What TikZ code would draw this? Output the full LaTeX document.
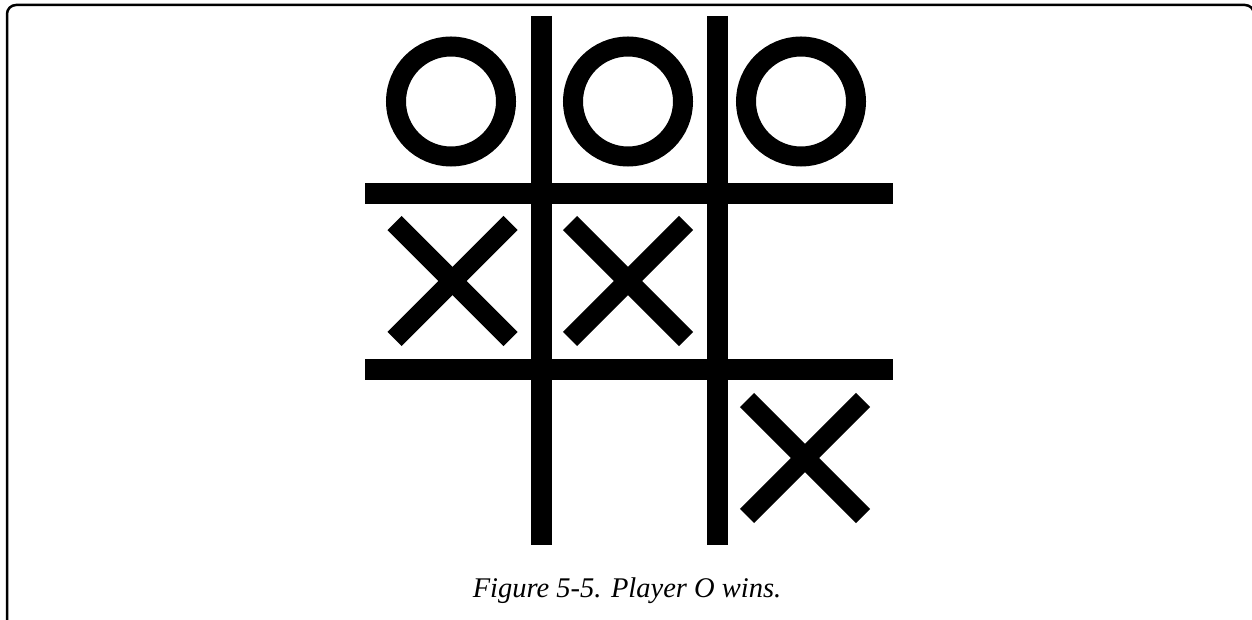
\documentclass[tikz,border=0pt]{standalone}
\usepackage{fontspec}
\setmainfont{Liberation Serif}
\usetikzlibrary{positioning}

\tikzset{
  boardline/.style={line width=21pt},
  oring/.style={line width=20pt},
  xstroke/.style={line width=20pt},
  frameline/.style={line width=2.5pt, rounded corners=9pt},
  captiontext/.style={font=\fontsize{28.5}{32}\selectfont\itshape},
}

\begin{document}
\begin{tikzpicture}[x=1pt, y=-1pt]
  \useasboundingbox (0,0) rectangle (1252,620);

  % Frame
  \draw[frameline] (7,626) -- (7,5) -- (1254,5) -- (1254,626);

  % Board
  \foreach \x in {541.5, 717} {
    \draw[boardline] (\x,16) -- (\x,545);
  }
  \foreach \y in {193.5, 369} {
    \draw[boardline] (365,\y) -- (893,\y);
  }

  % O's, top row
  \foreach \x in {451, 628, 801} {
    \draw[oring] (\x,101.5) circle[radius=55pt];
  }

  % X's
  \foreach \x/\y in {452.5/281, 628/281, 805/458} {
    \draw[xstroke] (\x-58,\y-58) -- (\x+58,\y+58);
    \draw[xstroke] (\x-58,\y+58) -- (\x+58,\y-58);
  }

  \node[captiontext] (caption) at (627,591) {Figure 5-5. Player O wins.};
\end{tikzpicture}
\end{document}
